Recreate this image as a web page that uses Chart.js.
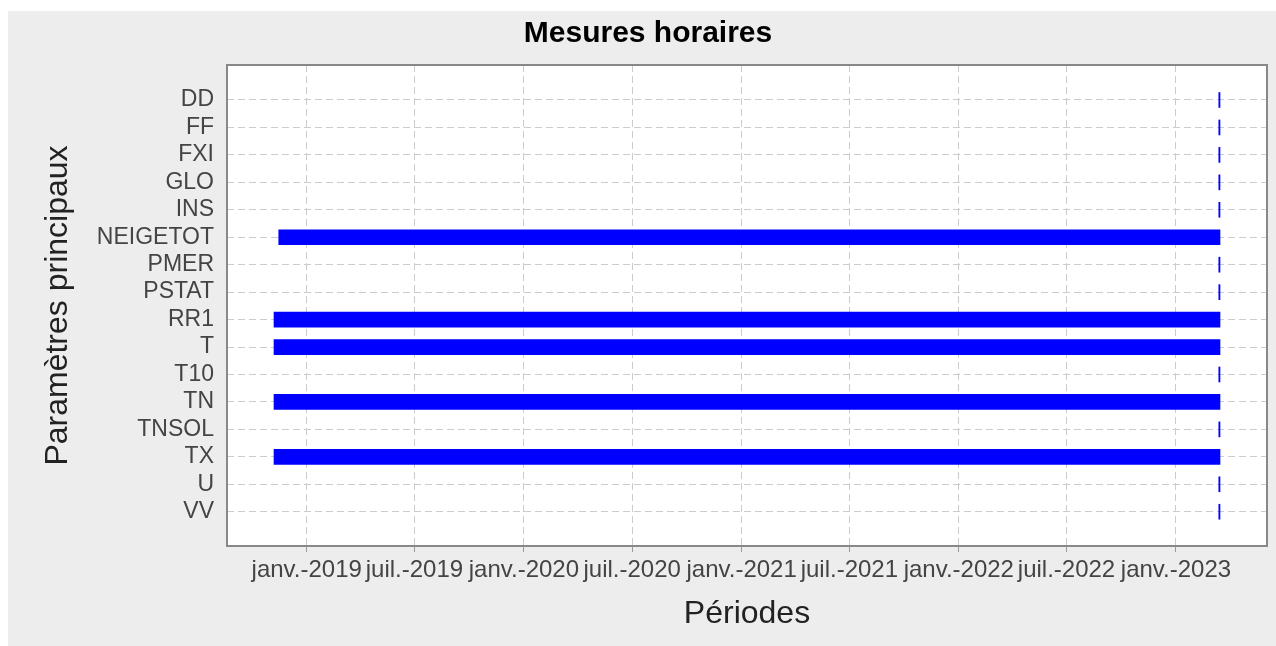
<!DOCTYPE html>
<html>
<head>
<meta charset="utf-8">
<script src="https://cdn.jsdelivr.net/npm/chart.js@4.4.1/dist/chart.umd.min.js"></script>
<style>
  html, body { margin: 0; padding: 0; background: #fff; overflow: hidden; }
  #panel { position: absolute; left: 8px; top: 11px; width: 1280px; height: 635px; background: #ededed; }
</style>
</head>
<body>
<div id="panel"><canvas id="chart" width="1280" height="635"></canvas></div>
<script>
// Paramètres (catégories) et périodes de mesure
const params = ['DD', 'FF', 'FXI', 'GLO', 'INS', 'NEIGETOT', 'PMER', 'PSTAT', 'RR1', 'T', 'T10', 'TN', 'TNSOL', 'TX', 'U', 'VV'];
const debut = ['2023-03-14', '2023-03-14', '2023-03-14', '2023-03-14', '2023-03-14', '2018-11-15', '2023-03-14', '2023-03-14',
               '2018-11-07', '2018-11-07', '2023-03-14', '2018-11-07', '2023-03-14', '2018-11-07', '2023-03-14', '2023-03-14'];
const fin = ['2023-03-16', '2023-03-16', '2023-03-16', '2023-03-16', '2023-03-16', '2023-03-16', '2023-03-16', '2023-03-16',
             '2023-03-16', '2023-03-16', '2023-03-16', '2023-03-16', '2023-03-16', '2023-03-16', '2023-03-16', '2023-03-16'];

// Graduations de l'axe des temps
const tickDates = ['2019-01-01', '2019-07-01', '2020-01-01', '2020-07-01', '2021-01-01', '2021-07-01', '2022-01-01', '2022-07-01', '2023-01-01'];
const tickLabels = ['janv.-2019', 'juil.-2019', 'janv.-2020', 'juil.-2020', 'janv.-2021', 'juil.-2021', 'janv.-2022', 'juil.-2022', 'janv.-2023'];
const xMin = '2018-08-20';
const xMax = '2023-06-03';

const ts = s => { const [y, m, d] = s.split('-').map(Number); return Date.UTC(y, m - 1, d); };

// fond blanc et cadre gris de la zone de tracé
const frame = {
    id: 'frame',
    beforeDraw(chart) {
        const { ctx, chartArea: a } = chart;
        ctx.save();
        ctx.fillStyle = '#fff';
        ctx.fillRect(a.left, a.top, a.right - a.left, a.bottom - a.top);
        ctx.restore();
    },
    afterDraw(chart) {
        const { ctx, chartArea: a } = chart;
        ctx.save();
        ctx.strokeStyle = '#888';
        ctx.lineWidth = 2;
        ctx.strokeRect(a.left, a.top, a.right - a.left, a.bottom - a.top);
        ctx.restore();
    }
};

const font = 'Liberation Sans, Arial, sans-serif';

const ctx = document.getElementById('chart').getContext('2d');
new Chart(ctx, {
    type: 'bar',
    data: {
        datasets: [{
            data: params.map((p, i) => ({ y: i, x: [ts(debut[i]), ts(fin[i])] })),
            backgroundColor: '#0000ff',
            borderWidth: 0,
            barThickness: 15
        }]
    },
    options: {
        indexAxis: 'y',
        responsive: false,
        animation: false,
        layout: { padding: { left: 21, right: 21, top: 0, bottom: 0 } },
        plugins: {
            legend: { display: false },
            tooltip: { enabled: false },
            title: {
                display: true,
                text: 'Mesures horaires',
                color: '#000',
                font: { family: font, size: 30, weight: 'bold' },
                padding: { top: 5, bottom: 13 }
            }
        },
        scales: {
            x: {
                type: 'linear',
                min: ts(xMin),
                max: ts(xMax),
                bounds: 'data',
                offset: false,
                afterBuildTicks: s => { s.ticks = tickDates.map(d => ({ value: ts(d) })); },
                afterFit: s => { s.height = 100; },
                ticks: {
                    autoSkip: false,
                    maxRotation: 0,
                    minRotation: 0,
                    padding: 4,
                    color: '#444',
                    font: { family: font, size: 24 },
                    callback: (v, i) => tickLabels[i]
                },
                grid: { offset: false, color: '#cccccc', lineWidth: 1, tickColor: '#999', tickLength: 6, tickBorderDash: [] },
                border: { display: false, dash: [7, 4] },
                title: {
                    display: true,
                    text: 'Périodes',
                    color: '#222',
                    font: { family: font, size: 32 },
                    padding: { top: 0, bottom: 13 }
                }
            },
            y: {
                type: 'linear',
                reverse: true,
                min: -1.275,
                max: 16.248,
                bounds: 'data',
                offset: false,
                afterBuildTicks: s => { s.ticks = params.map((p, i) => ({ value: i })); },
                afterFit: s => { s.width = 198; },
                ticks: {
                    autoSkip: false,
                    padding: 13,
                    color: '#444',
                    font: { family: font, size: 23 },
                    callback: v => params[v]
                },
                grid: { offset: false, color: '#cccccc', lineWidth: 1, drawTicks: false },
                border: { display: false, dash: [7, 4] },
                title: {
                    display: true,
                    text: 'Paramètres principaux',
                    color: '#222',
                    font: { family: font, size: 32 },
                    padding: { top: 10, bottom: 0 }
                }
            }
        }
    },
    plugins: [frame]
});
</script>
</body>
</html>
